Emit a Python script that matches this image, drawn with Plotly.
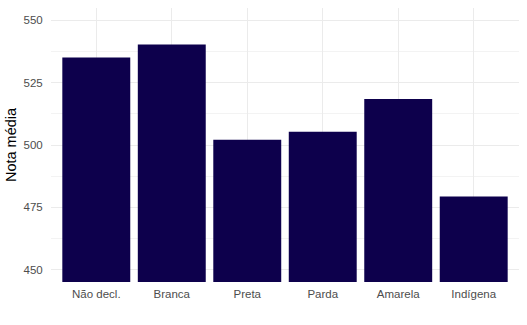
import plotly.graph_objects as go

categories = ["Não decl.", "Branca", "Preta", "Parda", "Amarela", "Indígena"]
values = [535.1, 540.3, 502.1, 505.3, 518.5, 479.3]
y_ticks = [450, 475, 500, 525, 550]

fig = go.Figure(go.Bar(x=categories, y=values, marker_color="#0D004C",
                       marker_line_width=0, width=0.9))

fig.update_layout(
    width=527, height=325,
    margin=dict(l=51, r=8, t=7.5, b=43.3),
    paper_bgcolor="white", plot_bgcolor="white",
    font=dict(family="Liberation Sans, Arial, sans-serif"),
    showlegend=False,
)
fig.update_xaxes(
    type="category", range=[-0.6, 5.6],
    showgrid=True, gridcolor="#EBEBEB", gridwidth=1.1,
    ticks="outside", ticklen=1, tickcolor="rgba(0,0,0,0)",
    tickfont=dict(size=11.5, color="#4D4D4D"),
    zeroline=False, showline=False,
)
fig.update_yaxes(
    range=[445, 555], tickvals=y_ticks,
    showgrid=True, gridcolor="#EBEBEB", gridwidth=1.1,
    minor=dict(dtick=12.5, tick0=450, showgrid=True, gridcolor="#F3F3F3", gridwidth=0.6),
    ticks="outside", ticklen=5, tickcolor="rgba(0,0,0,0)",
    tickfont=dict(size=11.5, color="#4D4D4D"),
    title=dict(text="Nota média", font=dict(size=14.5, color="black"), standoff=3),
    zeroline=False, showline=False,
)

fig.write_html("out.html")
